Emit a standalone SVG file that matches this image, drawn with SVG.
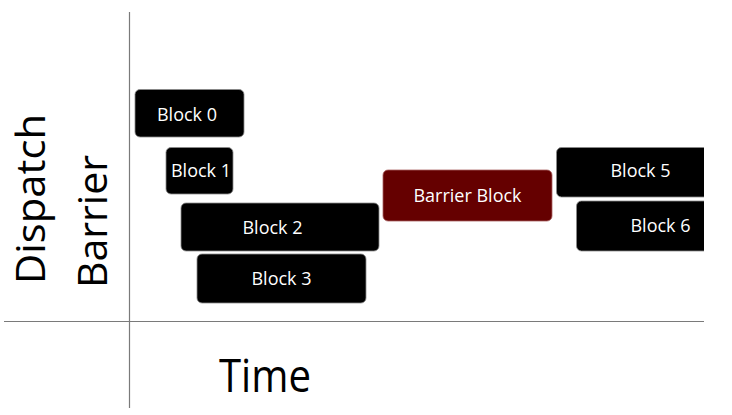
<svg xmlns="http://www.w3.org/2000/svg" width="732" height="415" viewBox="0 0 732 415">
<defs>
<style>
.blk{fill:#000;stroke:#8a8a8a;stroke-width:0.8}
.bar{fill:#650000;stroke:#a86060;stroke-width:0.8}
.lbl{font-family:"Open Sans","Liberation Sans",sans-serif;font-size:18px;fill:#fff;text-anchor:middle}
.axis{stroke:#7a7a7a;stroke-width:1.2;fill:none}
.big{font-family:"Open Sans","Liberation Sans",sans-serif;fill:#000}
</style>
<clipPath id="clip"><rect x="0" y="0" width="704" height="415"/></clipPath>
</defs>
<rect width="732" height="415" fill="#fff"/>
<g id="connectors">
<line class="axis" x1="129.5" y1="12" x2="129.5" y2="408"/>
<line class="axis" x1="4" y1="321.5" x2="704" y2="321.5"/>
</g>
<text class="big" font-size="41" transform="translate(45,284) rotate(-90)" textLength="170" lengthAdjust="spacingAndGlyphs">Dispatch</text>
<text class="big" font-size="41" transform="translate(107,288) rotate(-90)" textLength="133" lengthAdjust="spacingAndGlyphs">Barrier</text>
<text class="big" font-size="46" x="219" y="392" textLength="92" lengthAdjust="spacingAndGlyphs">Time</text>
<g id="block0"><rect class="blk" x="135" y="89.5" width="109" height="47.5" rx="5"/><text class="lbl" x="187" y="121">Block 0</text></g>
<g id="block1"><rect class="blk" x="166" y="147.5" width="67" height="46.5" rx="5"/><text class="lbl" x="201" y="177">Block 1</text></g>
<g id="block2"><rect class="blk" x="181" y="203" width="198" height="48" rx="5"/><text class="lbl" x="272.5" y="234">Block 2</text></g>
<g id="block3"><rect class="blk" x="197" y="254" width="169" height="49" rx="5"/><text class="lbl" x="281.5" y="285">Block 3</text></g>
<g id="barrier"><rect class="bar" x="383" y="170" width="169" height="51" rx="5"/><text class="lbl" x="467.5" y="202">Barrier Block</text></g>
<g clip-path="url(#clip)">
<g id="block5"><rect class="blk" x="556.5" y="147.5" width="170" height="49.5" rx="5"/><text class="lbl" x="640.5" y="177">Block 5</text></g>
<g id="block6"><rect class="blk" x="576.5" y="201" width="170" height="50" rx="5"/><text class="lbl" x="660.5" y="232">Block 6</text></g>
</g>
</svg>
